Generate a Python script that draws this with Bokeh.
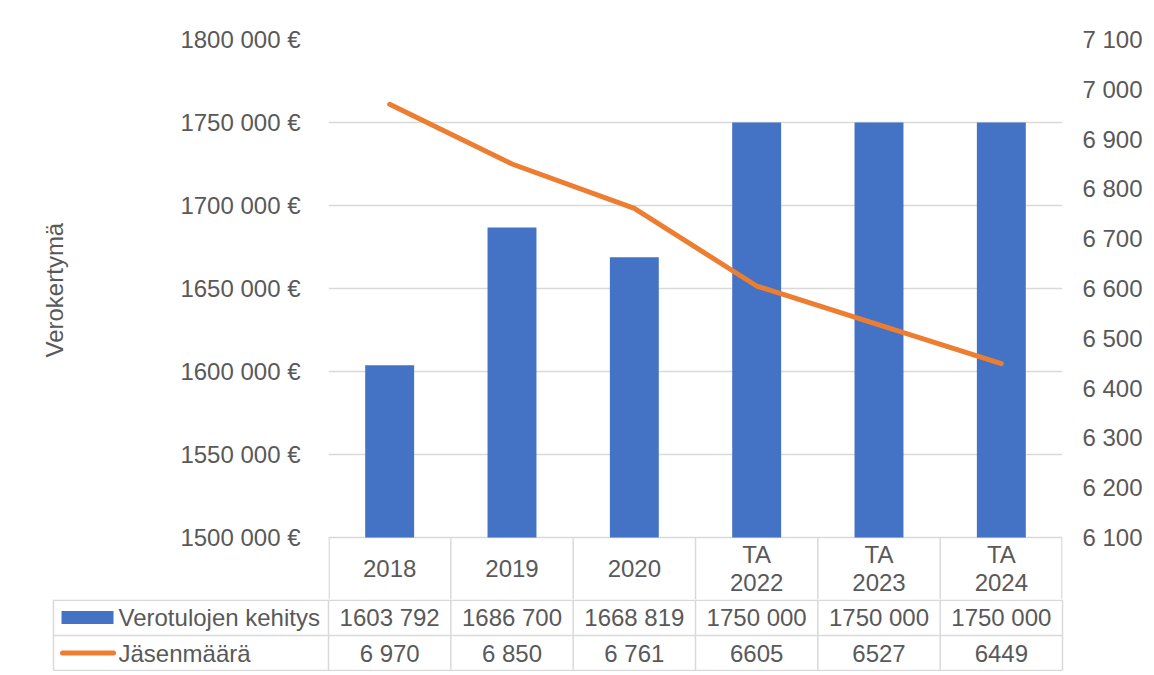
from bokeh.plotting import figure
from bokeh.models import Range1d, LinearAxis, FixedTicker, FactorRange, Title
from bokeh.embed import file_html
from bokeh.resources import INLINE
from bokeh.core.properties import value

# ---------------- data ----------------
categories = ["2018", "2019", "2020", "TA\n2022", "TA\n2023", "TA\n2024"]
tax_revenue = [1603792, 1686700, 1668819, 1750000, 1750000, 1750000]
members = [6970, 6850, 6761, 6605, 6527, 6449]
member_labels = ["6 970", "6 850", "6 761", "6605", "6527", "6449"]
left_ticks = [1500000, 1550000, 1600000, 1650000, 1700000, 1750000, 1800000]
left_tick_labels = ["1500 000 €", "1550 000 €", "1600 000 €", "1650 000 €",
                    "1700 000 €", "1750 000 €", "1800 000 €"]
right_ticks = [6100, 6200, 6300, 6400, 6500, 6600, 6700, 6800, 6900, 7000, 7100]
right_tick_labels = ["6 100", "6 200", "6 300", "6 400", "6 500", "6 600",
                     "6 700", "6 800", "6 900", "7 000", "7 100"]
bar_name = "Verotulojen kehitys"
line_name = "Jäsenmäärä"
y_title = "Verokertymä"

tax_labels = [f"{v // 1000} {v % 1000:03d}" for v in tax_revenue]

# ---------------- style / layout constants (page pixels) ----------------
FONT_NAME = "Liberation Sans"
FONT = value(FONT_NAME)
FS = "24px"
TXT = "#595959"
GRID = "#d9d9d9"
BAR = "#4472c4"
LINE = "#ed7d31"

W = 1150
STRIP_H = 10                                   # top strip with the chart border
FRAME_L, FRAME_R, FRAME_T, PLOT_B = 328, 1062, 39, 537
ROW1_B, ROW2_B, ROW3_B = 599, 635, 670        # data-table row bottoms
TABLE_L = 53
TABLE_BOTTOM = 671
TITLE_GAP = 109                                # space between tick labels and y title
TITLE_LOW_END = 357                            # page row where the y title starts
n = len(categories)
UNIT = (FRAME_R - FRAME_L) / n
L_PER_PX = (left_ticks[-1] - left_ticks[0]) / (PLOT_B - FRAME_T)
R_PER_PX = (right_ticks[-1] - right_ticks[0]) / (PLOT_B - FRAME_T)


def xd(px):
    return (px - FRAME_L) / UNIT


def yd(py):
    return left_ticks[-1] - (py - FRAME_T) * L_PER_PX


def rd(py):
    return right_ticks[-1] - (py - FRAME_T) * R_PER_PX


def bare(fig):
    fig.xgrid.visible = False
    fig.ygrid.visible = False
    return fig


# ---------------- top strip: chart border ----------------
s = bare(figure(width=W, height=STRIP_H, x_range=Range1d(0, W), y_range=Range1d(STRIP_H, 0),
                x_axis_location=None, y_axis_location=None, output_backend="svg",
                toolbar_location=None, min_border=0, outline_line_color=None,
                background_fill_color="white", border_fill_color="white"))
s.segment(x0=[7], y0=[9.5], x1=[W], y1=[9.5], line_color=GRID, line_width=1)

# ---------------- main chart (incl. category row) ----------------
p = figure(width=W, height=ROW1_B - STRIP_H,
           x_range=FactorRange(factors=categories),
           y_range=Range1d(yd(ROW1_B), left_ticks[-1]),
           x_axis_location=None,
           output_backend="svg", toolbar_location=None,
           min_border_left=FRAME_L, min_border_right=W - FRAME_R,
           min_border_top=FRAME_T - STRIP_H, min_border_bottom=0,
           outline_line_color=None, background_fill_color="white",
           border_fill_color="white")

p.extra_y_ranges = {"members": Range1d(rd(ROW1_B), right_ticks[-1])}

ya = p.yaxis[0]
ya.ticker = FixedTicker(ticks=left_ticks)
ya.major_label_overrides = {t: l for t, l in zip(left_ticks, left_tick_labels)}
ya.axis_line_color = None
ya.major_tick_line_color = None
ya.minor_tick_line_color = None
ya.major_tick_out = 0
ya.major_tick_in = 0
ya.major_label_standoff = 28
ya.major_label_text_font = FONT_NAME
ya.major_label_text_font_size = FS
ya.major_label_text_color = TXT

ra = LinearAxis(y_range_name="members", ticker=FixedTicker(ticks=right_ticks),
                major_label_overrides={t: l for t, l in zip(right_ticks, right_tick_labels)},
                axis_line_color=None, major_tick_line_color=None,
                minor_tick_line_color=None, major_tick_out=0, major_tick_in=0,
                major_label_standoff=20, major_label_text_font=FONT_NAME,
                major_label_text_font_size=FS, major_label_text_color=TXT)
p.add_layout(ra, "right")

# invisible left axis that only reserves the gap between tick labels and the title
gap = LinearAxis(ticker=FixedTicker(ticks=[left_ticks[0]]),
                 major_label_overrides={left_ticks[0]: ""},
                 axis_line_color=None, major_tick_line_color=None,
                 minor_tick_line_color=None, major_tick_out=TITLE_GAP,
                 major_tick_in=0, major_label_standoff=0)
p.add_layout(gap, "left")

# vertical axis title
p.add_layout(Title(text=y_title, align="left", vertical_align="middle",
                   offset=ROW1_B - TITLE_LOW_END, standoff=0,
                   text_font=FONT_NAME, text_font_size=FS,
                   text_font_style="normal", text_color=TXT), "left")

p.xgrid.visible = False
p.ygrid.ticker = FixedTicker(ticks=left_ticks)
p.ygrid.grid_line_color = GRID
p.ygrid.grid_line_width = 1.5

p.vbar(x=categories, top=tax_revenue, bottom=left_ticks[0], width=0.4,
       fill_color=BAR, line_color=None)
p.line(x=categories, y=members, y_range_name="members", line_color=LINE,
       line_width=5, line_cap="round", line_join="round")

# category row of the data table
edge = 0.6 / UNIT
vx = [edge] + list(range(1, n)) + [n - edge]
p.segment(x0=vx, x1=vx, y0=[yd(PLOT_B)] * (n + 1), y1=[yd(ROW1_B)] * (n + 1),
          line_color=GRID, line_width=1.5)
centers = [i + 0.5 for i in range(n)]
p.text(x=centers, y=[yd(568)] * n, text=categories, text_align="center",
       text_baseline="middle", text_font=FONT, text_font_size=FS,
       text_color=TXT, text_line_height=1.04)

# ---------------- series rows of the data table ----------------
t = bare(figure(width=W, height=TABLE_BOTTOM - ROW1_B,
                x_range=Range1d(xd(0), xd(W)), y_range=Range1d(TABLE_BOTTOM, ROW1_B),
                x_axis_location=None, y_axis_location=None, output_backend="svg",
                toolbar_location=None, min_border=0, outline_line_color=None,
                background_fill_color="white", border_fill_color="white"))

hy = [ROW1_B + 0.75, ROW2_B, ROW3_B]
t.segment(x0=[xd(TABLE_L)] * 3, x1=[n] * 3, y0=hy, y1=hy, line_color=GRID, line_width=1.5)
tx = [xd(TABLE_L)] + list(range(n + 1))
t.segment(x0=tx, x1=tx, y0=[ROW1_B] * len(tx), y1=[ROW3_B] * len(tx),
          line_color=GRID, line_width=1.5)

y2, y3 = 617, 652.5
t.text(x=centers, y=[y2] * n, text=tax_labels, text_align="center",
       text_baseline="middle", text_font=FONT, text_font_size=FS, text_color=TXT)
t.text(x=centers, y=[y3] * n, text=member_labels, text_align="center",
       text_baseline="middle", text_font=FONT, text_font_size=FS, text_color=TXT)

t.quad(left=[xd(61)], right=[xd(113)], top=[y2 - 6.5], bottom=[y2 + 6.5],
       fill_color=BAR, line_color=None)
t.segment(x0=[xd(62)], x1=[xd(113)], y0=[y3], y1=[y3], line_color=LINE,
          line_width=5, line_cap="round")
t.text(x=[xd(118)] * 2, y=[y2, y3], text=[bar_name, line_name], text_align="left",
       text_baseline="middle", text_font=FONT, text_font_size=FS, text_color=TXT)

open("out.html", "w").write(file_html([s, p, t], INLINE))
